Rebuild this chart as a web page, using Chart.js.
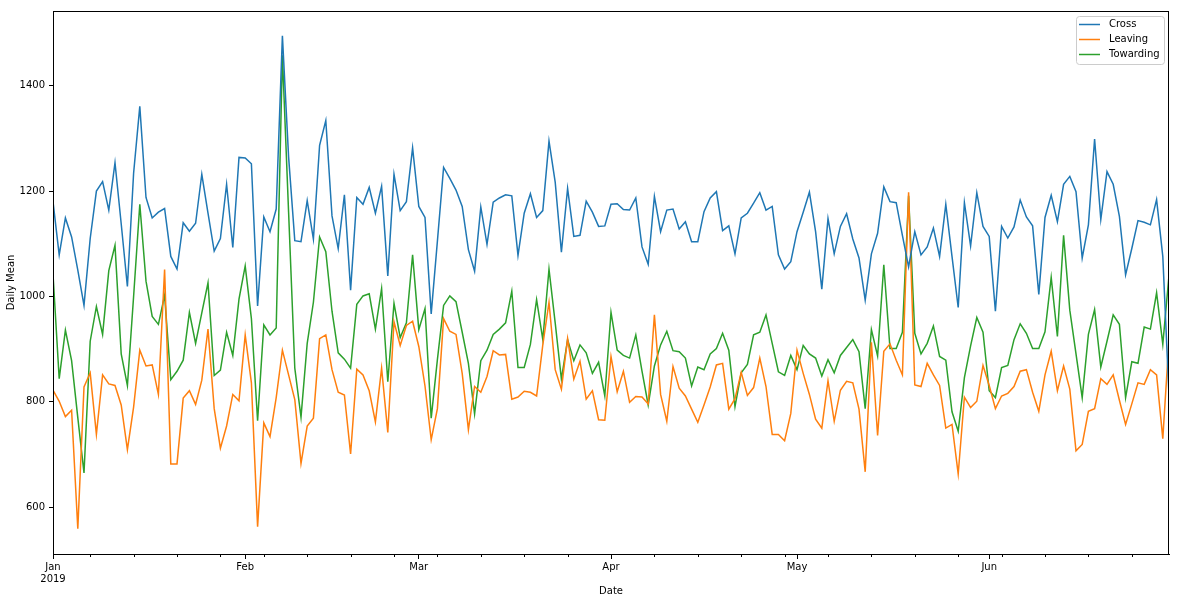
<!DOCTYPE html>
<html><head><meta charset="utf-8">
<script src="https://cdn.jsdelivr.net/npm/chart.js@4/dist/chart.umd.min.js"></script>
<style>html,body{margin:0;padding:0;background:#fff;overflow:hidden}canvas{display:block}</style>
</head><body>
<canvas id="c" width="1180" height="604"></canvas>
<script>
const startDate = '2019-01-01';
const cross = [1180,1079,1149,1113,1050,983,1110,1200,1218,1164,1254,1138,1019,1234,1361,1188,1149,1160,1167,1076,1052,1140,1124,1139,1232,1158,1086,1110,1213,1093,
1264,1263,1252,982,1151,1123,1166,1495,1265,1106,1104,1182,1109,1287,1334,1153,1091,1193,1012,1188,1175,1207,1158,1209,1039,1232,1163,1180,1282,1171,
1150,967,1105,1245,1224,1202,1171,1089,1048,1170,1099,1179,1187,1193,1191,1078,1158,1195,1150,1163,1295,1217,1084,1205,1114,1116,1181,1160,1133,1134,
1175,1176,1165,1164,1187,1094,1061,1190,1123,1164,1166,1128,1142,1104,1104,1161,1187,1199,1125,1134,1081,1149,1158,1177,1197,1164,1171,1079,1052,1066,
1123,1160,1198,1123,1014,1148,1081,1133,1157,1109,1073,993,1081,1120,1208,1180,1178,1116,1056,1123,1079,1094,1130,1076,1175,1076,979,1178,1096,1197,
1133,1114,972,1133,1111,1132,1183,1151,1134,1004,1150,1192,1142,1213,1228,1199,1073,1136,1299,1146,1237,1213,1152,1041,1091,1144,1141,1136,1184,1076,812];
const leaving = [822,801,772,784,559,828,855,738,851,834,831,794,709,790,898,868,870,814,1051,682,682,807,821,795,841,938,787,712,754,814,
802,927,836,563,760,734,808,898,851,804,683,754,769,920,927,861,818,813,701,862,851,821,762,864,742,952,907,945,953,905,
830,728,787,958,934,928,854,747,829,818,848,897,889,890,805,809,820,818,811,908,989,861,824,920,843,877,805,821,766,765,
886,819,858,799,810,809,796,965,814,763,867,826,811,786,761,794,828,870,873,786,806,856,812,827,883,829,738,738,726,778,
898,854,814,767,750,840,763,822,839,836,786,667,913,736,896,910,879,851,1198,832,829,873,851,831,750,757,663,809,789,801,
869,831,787,811,816,829,858,861,818,782,851,896,821,868,824,707,719,782,787,844,833,851,803,757,796,836,833,861,851,730,918];
const towarding = [1042,844,936,878,770,665,915,981,928,1049,1097,891,831,1000,1175,1029,962,947,1002,842,858,879,970,911,969,1026,850,860,932,888,
995,1058,958,764,946,927,940,1458,1160,864,771,911,989,1113,1085,972,893,881,864,985,1001,1005,938,1015,838,987,922,950,1079,937,
977,769,880,983,1001,990,932,873,777,878,898,928,938,950,1010,865,865,909,994,918,1052,950,843,918,878,908,893,854,875,811,
970,898,888,883,927,858,794,868,908,934,897,895,883,830,866,861,891,901,930,898,791,855,871,927,932,965,911,857,850,888,
861,907,891,883,849,880,855,888,903,918,895,787,937,887,1060,901,901,932,1191,930,891,911,944,886,879,781,744,846,906,960,
932,821,808,865,869,918,948,930,901,901,933,1036,924,1116,974,891,808,928,975,866,915,965,947,808,876,873,942,938,1007,909,1040];
const seriesNames = ['Cross','Leaving','Towarding'];
const seriesColors = ['#1f77b4','#ff7f0e','#2ca02c'];
const monthTickDays = [0,31,59,90,120,151];
const monthTickLabels = [['Jan','2019'],'Feb','Mar','Apr','May','Jun'];
const weekTickDays = [6,13,20,27,34,41,48,55,62,69,76,83,90,97,104,111,118,125,132,139,146,153,160,167,174];
const yTicks = [600,800,1000,1200,1400];
const yMin = 511, yMax = 1542;

Chart.defaults.font.family = "'DejaVu Sans', sans-serif";
Chart.defaults.font.size = 10;
Chart.defaults.color = '#000';

const toPts = arr => arr.map((v, i) => ({x: i, y: v}));

const framePlugin = {
  id: 'frame',
  afterDraw(chart) {
    const {ctx, chartArea: a, scales} = chart;
    ctx.save();
    ctx.strokeStyle = '#000';
    ctx.lineWidth = 1;
    ctx.strokeRect(a.left + 0.5, a.top + 0.5, a.right - a.left - 1, a.bottom - a.top);
    ctx.beginPath();
    weekTickDays.forEach(d => {
      if (monthTickDays.includes(d)) return;
      const x = Math.round(scales.x.getPixelForValue(d)) + 0.5;
      ctx.moveTo(x, a.bottom);
      ctx.lineTo(x, a.bottom + 3);
    });
    ctx.stroke();
    const w = 88, h = 48;
    const bx = a.right - 5 - w, by = a.top + 5;
    ctx.fillStyle = 'rgba(255,255,255,0.8)';
    ctx.strokeStyle = '#cccccc';
    ctx.beginPath();
    if (ctx.roundRect) ctx.roundRect(bx + 0.5, by + 0.5, w, h, 3); else ctx.rect(bx + 0.5, by + 0.5, w, h);
    ctx.fill(); ctx.stroke();
    ctx.font = "10px 'DejaVu Sans', sans-serif";
    ctx.textBaseline = 'middle';
    chart.data.datasets.forEach((ds, i) => {
      const yy = by + 8.5 + i * 15;
      ctx.strokeStyle = ds.borderColor;
      ctx.lineWidth = 1.5;
      ctx.beginPath();
      ctx.moveTo(bx + 3, yy); ctx.lineTo(bx + 24, yy);
      ctx.stroke();
      ctx.fillStyle = '#000';
      ctx.fillText(ds.label, bx + 33, yy);
    });
    ctx.restore();
  }
};

new Chart(document.getElementById('c').getContext('2d'), {
  type: 'line',
  data: {
    datasets: [cross, leaving, towarding].map((arr, k) => ({
      label: seriesNames[k], data: toPts(arr), borderColor: seriesColors[k],
      backgroundColor: seriesColors[k], borderWidth: 1.5, pointRadius: 0,
      tension: 0, fill: false
    }))
  },
  options: {
    responsive: false, animation: false, devicePixelRatio: 1,
    layout: {padding: {top: 11, right: 11, left: 0, bottom: 0}},
    plugins: {legend: {display: false}, tooltip: {enabled: false}},
    scales: {
      x: {
        type: 'linear', min: 0, max: 180,
        afterBuildTicks: s => { s.ticks = monthTickDays.map(v => ({value: v})); },
        afterFit: s => { s.height = 50; },
        ticks: {autoSkip: false, maxRotation: 0, padding: 2, color: '#000',
          callback: v => { const i = monthTickDays.indexOf(v); return i >= 0 ? monthTickLabels[i] : ''; }},
        grid: {drawOnChartArea: false, drawTicks: true, tickLength: 5, tickColor: '#000', tickWidth: 1},
        border: {display: true, color: '#000', width: 1},
        title: {display: true, text: 'Date', color: '#000', padding: {top: 0, bottom: 7}}
      },
      y: {
        min: yMin, max: yMax,
        afterBuildTicks: s => { s.ticks = yTicks.map(v => ({value: v})); },
        afterFit: s => { s.width = 53; },
        ticks: {padding: 4, color: '#000', callback: v => String(v)},
        grid: {drawOnChartArea: false, drawTicks: true, tickLength: 4, tickColor: '#000'},
        border: {display: true, color: '#000', width: 1},
        title: {display: true, text: 'Daily Mean', color: '#000', padding: {top: 5, bottom: 0}}
      }
    }
  },
  plugins: [framePlugin]
});
</script>
</body></html>
